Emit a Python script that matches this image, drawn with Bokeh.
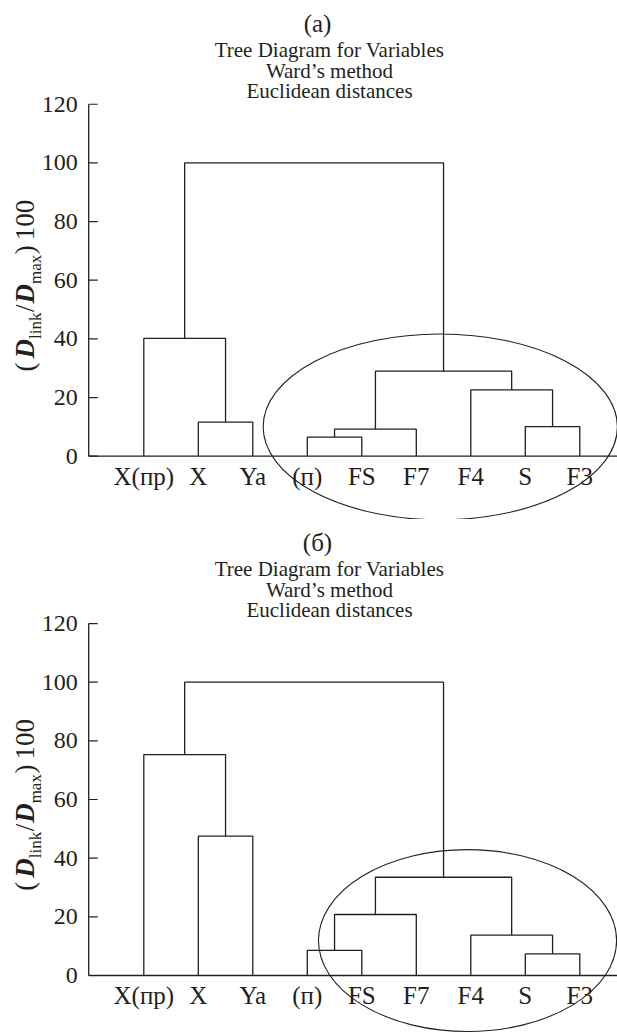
import math
from bokeh.plotting import figure
from bokeh.layouts import column
from bokeh.models import Range1d
from bokeh.core.properties import value
from bokeh.embed import file_html
from bokeh.resources import INLINE

# ---------------- data ----------------
leaves = ["X(пр)", "X", "Ya", "(п)", "FS", "F7", "F4", "S", "F3"]
panel_tags = ["(a)", "(б)"]
title_lines = ["Tree Diagram for Variables", "Ward’s method", "Euclidean distances"]
y_ticks = [0, 20, 40, 60, 80, 100, 120]
y_tick_labels = ["0", "20", "40", "60", "80", "100", "120"]

# merge table (leaf ids 0..8, new clusters numbered 9, 10, ...)
merge_left = [1, 0, 3, 11, 7, 6, 12, 10]
merge_right = [2, 9, 4, 5, 8, 13, 14, 15]
heights_a = [11.6, 40.2, 6.5, 9.2, 10.1, 22.6, 29.0, 100.0]
heights_b = [47.5, 75.3, 8.6, 20.8, 7.4, 13.75, 33.5, 100.0]

# ---------------- style / layout ----------------
INK = "#231f20"
SERIF = "Liberation Serif"
PX_X = 54.5      # pixels per leaf step
PX_Y = 2.933     # pixels per y unit
AXIS_PX = 88.8   # page x of x=0
W = 617
ELLIPSES = [dict(x=6.44, y=10.0, w=6.5, h=63.4), dict(x=6.94, y=11.9, w=5.47, h=62.0)]


def dx(px):
    """pixel distance -> x data units"""
    return px / PX_X


def dy(px):
    return px / PX_Y


def build(tag, heights, fig_h, zero_px, ell):
    x_lo = -dx(AXIS_PX)
    x_hi = dx(W - AXIS_PX)
    y_hi = dy(zero_px)
    y_lo = -dy(fig_h - zero_px)
    p = figure(width=W, height=fig_h, output_backend="svg", toolbar_location=None,
               x_range=Range1d(x_lo, x_hi), y_range=Range1d(y_lo, y_hi),
               min_border=0, background_fill_color="white", border_fill_color="white")
    p.outline_line_color = None
    p.grid.visible = False
    p.xaxis.visible = False
    p.yaxis.visible = False

    def ypage(page_y):  # page offset measured from the top panel origin
        return dy(455.7 - page_y)

    # axes (drawn through the data scales)
    ax0 = -dx(0.6)
    p.segment(x0=[ax0, ax0], y0=[0, 0], x1=[x_hi, ax0], y1=[0, max(y_ticks)],
              line_color=INK, line_width=1.3)
    p.segment(x0=[ax0] * len(y_ticks), y0=y_ticks, x1=[ax0 + dx(9)] * len(y_ticks), y1=y_ticks,
              line_color=INK, line_width=1.2)
    p.text(x=[-dx(11.5)] * len(y_ticks), y=y_ticks, text=y_tick_labels,
           text_align="right", text_baseline="middle", text_color=INK,
           text_font=value(SERIF), text_font_size="24px")

    # dendrogram
    pos = {i: float(i + 1) for i in range(len(leaves))}
    hgt = {i: 0.0 for i in range(len(leaves))}
    xs, ys = [], []
    for k, (a, b, h) in enumerate(zip(merge_left, merge_right, heights)):
        xs.append([pos[a], pos[a], pos[b], pos[b]])
        ys.append([hgt[a], h, h, hgt[b]])
        nid = len(leaves) + k
        pos[nid] = (pos[a] + pos[b]) / 2
        hgt[nid] = h
    p.multi_line(xs=xs, ys=ys, line_color=INK, line_width=1.3)

    # leaf labels
    p.text(x=[pos[i] for i in range(len(leaves))], y=[ypage(475.5)] * len(leaves), text=leaves,
           text_align="center", text_baseline="middle", text_color=INK,
           text_font=value(SERIF), text_font_size="25px")

    # titles
    p.text(x=[dx(317 - AXIS_PX)], y=[ypage(23)], text=[tag], text_align="center",
           text_baseline="middle", text_color=INK, text_font=value(SERIF),
           text_font_size="25px")
    p.text(x=[dx(329 - AXIS_PX)] * 3,
           y=[ypage(49.5), ypage(70.0), ypage(90.5)],
           text=title_lines, text_align="center", text_baseline="middle",
           text_color=INK, text_font=value(SERIF), text_font_size="21px")

    # rotated y-axis label: (D_link / D_max)100
    main_fs, sub_fs = 27, 17
    pieces = [  # text, em advance, size, style, is_sub, gap after (px)
        ("(", 0.333, main_fs, "normal", False, 4),
        ("D", 0.722, main_fs, "bold italic", False, 0),
        ("link", 1.556, sub_fs, "normal", True, 0.5),
        ("/", 0.278, main_fs, "normal", False, 1),
        ("D", 0.722, main_fs, "bold italic", False, 0),
        ("max", 1.722, sub_fs, "normal", True, 0.5),
        (")", 0.333, main_fs, "normal", False, 5),
        ("100", 1.5, main_fs, "normal", False, 0),
    ]
    cur = 371.0
    for txt, em, fs, st, sub, gap in pieces:
        mid_x = 34.5 if sub else 24
        p.text(x=[dx(mid_x - AXIS_PX)], y=[ypage(cur)], text=[txt], angle=math.pi / 2,
               text_align="left", text_baseline="middle", text_color=INK,
               text_font=value(SERIF), text_font_size=f"{fs}px", text_font_style=st)
        cur -= em * fs + gap

    # ellipse marking the cluster
    p.ellipse(x=[ell["x"]], y=[ell["y"]], width=[ell["w"]], height=[ell["h"]],
              fill_color=None, line_color=INK, line_width=1.1)
    return p


p1 = build(panel_tags[0], heights_a, 519, 455.7, ELLIPSES[0])
p2 = build(panel_tags[1], heights_b, 514, 975.0 - 519, ELLIPSES[1])
p = column(p1, p2, spacing=0)

open("out.html", "w").write(file_html(p, INLINE))
